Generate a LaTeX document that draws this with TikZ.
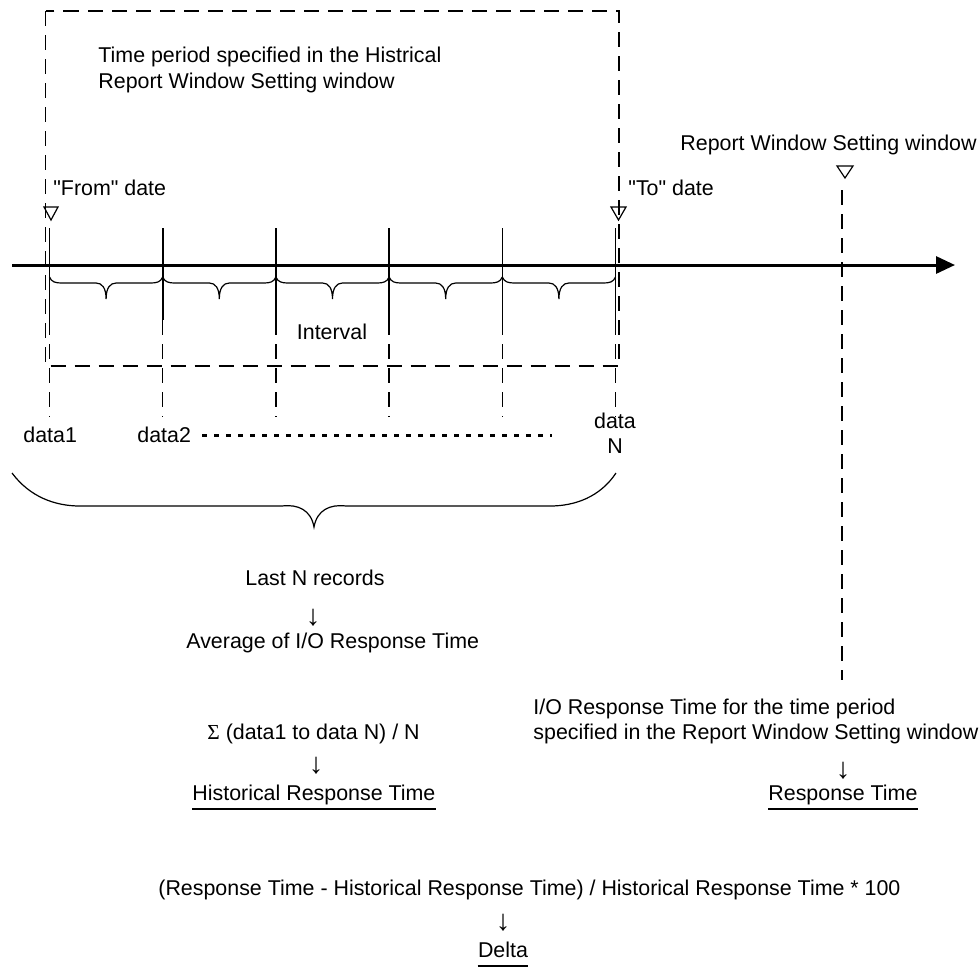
\documentclass[tikz,border=0pt]{standalone}
\usepackage{fontspec}
\setmainfont{Liberation Sans}
\newfontfamily\diagfont{Liberation Sans}
\newfontfamily\sigmafont{Liberation Serif}
\usetikzlibrary{arrows.meta,calc}

\begin{document}
\begin{tikzpicture}[
  x=0.5pt, y=-0.5pt,
  font=\diagfont\fontsize{10.7}{13}\selectfont,
  txt/.style={inner sep=0pt, anchor=base west},
  ctr/.style={inner sep=0pt, anchor=base},
  dn/.style={inner sep=0pt, anchor=center, font=\diagfont\fontsize{14.5}{14.5}\selectfont},
  win/.style={dash pattern=on 7.5pt off 4.5pt, line width=0.7pt},
  tick/.style={line width=0.8pt},
  brc/.style={line width=0.6pt},
  tri/.style={line width=0.6pt},
  axis/.style={line width=1.5pt, -{Triangle[length=9.5pt, width=8.5pt]}}]
  \useasboundingbox (0,0) rectangle (979,976);
  % time axis
  \coordinate (ax0) at (12,265);
  \coordinate (ax1) at (955,265);
  \draw[axis] (ax0) -- (ax1);
  % period of the historical report window
  \draw[win] (45.5,11) rectangle (619,366);
  \node[txt] (per1) at (98,62) {Time period specified in the Histrical};
  \node[txt] (per2) at (98,88) {Report Window Setting window};
  % ticks, one per record
  \foreach \i/\x in {0/49.5,1/162.7,2/275.9,3/389.1,4/502.3,5/615.5} {
    \coordinate (t\i) at (\x,265);
    \draw[tick] (\x,228) -- (\x,320);
    \draw[win] (\x,320) -- (\x,417);
  }
  % braces of the intervals
  \foreach \a/\b in {49.5/162.7,162.7/275.9,275.9/389.1,389.1/502.3,502.3/615.5} {
    \pgfmathsetmacro\m{(\a+\b)/2}
    \draw[brc] (\a,277) .. controls (\a+2,282) and (\a+6,283) .. (\a+12,283)
      -- (\m-10,283) .. controls (\m-4,283) and (\m,288) .. (\m,299)
      .. controls (\m,288) and (\m+4,283) .. (\m+10,283)
      -- (\b-12,283) .. controls (\b-6,283) and (\b-2,282) .. (\b,277);
  }
  \node[ctr] (intv) at (332,339) {Interval};
  % from / to markers
  \draw[tri] (44,207) -- (58,207) -- (51,220) -- cycle;
  \node[txt] (from) at (53,195) {"From" date};
  \draw[tri] (611,207) -- (626,207) -- (618.5,220) -- cycle;
  \node[txt] (to) at (628,195) {"To" date};
  % report window setting window
  \draw[tri] (837,166) -- (853,166) -- (845,178) -- cycle;
  \node[txt] (rws) at (680,150) {Report Window Setting window};
  \draw[win] (842,190) -- (842,680);
  % records
  \node[txt] (d1) at (23,442) {data1};
  \node[txt] (d2) at (137,442) {data2};
  \draw[line width=1.5pt, dash pattern=on 2.5pt off 3.5pt] (202,435) -- (552,435);
  \node[ctr] (dn1) at (615,428) {data};
  \node[ctr] (dn2) at (615,453) {N};
  % brace over the last N records
  \draw[brc] (12,473) .. controls (30,497) and (55,506) .. (80,506) -- (282,506)
    .. controls (298,504) and (311,510) .. (314,527)
    .. controls (317,510) and (330,504) .. (346,506) -- (550,506)
    .. controls (575,506) and (600,497) .. (616,473);
  % historical side
  \node[txt] (last) at (245,585) {Last N records};
  \node[dn] (ar1) at (313,618) {↓};
  \node[txt] (avg) at (186,648) {Average of I/O Response Time};
  \node[txt] (sum) at (207,739) {{\sigmafont Σ} (data1 to data N) / N};
  \node[dn] (ar2) at (316,766) {↓};
  \node[txt] (hrt) at (192,800) {Historical Response Time};
  \draw[brc] ($(hrt.base west)+(0,9)$) -- ($(hrt.base east)+(0,9)$);
  % current side
  \node[txt] (cur1) at (533,714) {I/O Response Time for the time period};
  \node[txt] (cur2) at (533,739) {specified in the Report Window Setting window};
  \node[dn] (ar3) at (843,771) {↓};
  \node[txt] (rt) at (768,800) {Response Time};
  \draw[brc] ($(rt.base west)+(0,9)$) -- ($(rt.base east)+(0,9)$);
  % delta
  \node[txt] (fml) at (158,895) {(Response Time - Historical Response Time) / Historical Response Time * 100};
  \node[dn] (ar4) at (503,923) {↓};
  \node[ctr] (delta) at (503,957) {Delta};
  \draw[brc] ($(delta.base west)+(0,9)$) -- ($(delta.base east)+(0,9)$);
\end{tikzpicture}
\end{document}
